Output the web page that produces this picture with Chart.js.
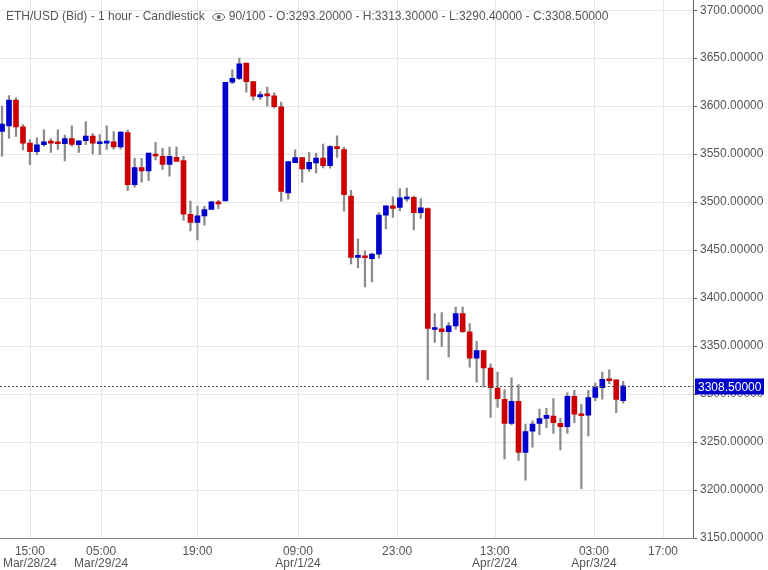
<!DOCTYPE html>
<html><head><meta charset="utf-8">
<script src="https://cdn.jsdelivr.net/npm/chart.js@4"></script>
<style>html,body{margin:0;padding:0;background:#fff}#w{width:768px;height:570px}</style>
</head><body><div id="w"><canvas id="c"></canvas></div>
<script>
const opens=[3573.6,3579.4,3606.3,3578.4,3561.5,3552.6,3559.8,3563.2,3562.2,3560.8,3566.3,3559.8,3564,3568.8,3560.8,3561.5,3562.9,3557.4,3572.5,3518.1,3536,3532.6,3550.1,3547.7,3539.4,3546.7,3543.2,3487.4,3478.8,3485.7,3492.3,3500.2,3501.2,3624.9,3629,3644.8,3625.5,3609.7,3612.1,3610.7,3599.4,3509.5,3541.1,3546.3,3534.7,3540.9,3546,3538.1,3557.1,3554.7,3506.4,3442.4,3444.1,3441,3445.8,3486.5,3496.1,3494.4,3503.4,3505.1,3488.9,3493.4,3367.3,3368,3364.9,3371.1,3383.8,3364.9,3337.3,3345.2,3327,3306.3,3294.6,3269.5,3292.5,3239.2,3261.3,3269.5,3274.6,3277,3269.5,3266,3297.7,3278.1,3278.1,3296.6,3306.7,3314.9,3314.9,3293.2];
const highs=[3600.1,3611.1,3608.7,3580.8,3565,3567,3575.3,3566.3,3575.3,3569.8,3579.4,3564,3583.9,3571.5,3570.5,3579.4,3573.6,3573.6,3575,3545.7,3545.7,3551.2,3562.2,3556,3557.4,3557.4,3547.7,3501.2,3496,3496,3500.9,3501.9,3624.9,3637.9,3650,3644.8,3625.5,3615.2,3620,3613.8,3604.2,3542.2,3554.6,3546.3,3551.9,3551.2,3560.5,3558.8,3569.1,3557.1,3512.3,3461.7,3449.3,3446.9,3489.2,3496.1,3505.4,3514,3514.7,3506.4,3503.7,3494,3383.8,3384.9,3374.5,3390.7,3390.7,3373.5,3354.9,3345.2,3331.5,3322.9,3304.6,3317,3309.8,3268.8,3272.2,3284.3,3285,3295.3,3274.6,3301.2,3303.9,3289.4,3303.9,3311.5,3322.9,3325.3,3314.9,3313.3];
const lows=[3547.8,3566.3,3568.4,3554.3,3539.1,3549.8,3558.1,3551.9,3555,3542.9,3558.4,3551.9,3559.8,3550.2,3549.5,3555,3555.3,3555.3,3511.9,3515.7,3520.9,3522.3,3543.9,3534,3527,3542.5,3481.2,3469.9,3460.6,3476,3492.3,3493.3,3501.2,3623.5,3627.6,3614.5,3606.3,3607,3600,3598.3,3500.9,3503,3541.5,3520.9,3531.9,3530.5,3535.7,3535.4,3546.7,3490.6,3435.5,3431.4,3411.7,3416.9,3441.7,3472,3484.1,3490.9,3500.9,3471,3483,3314.9,3353.9,3349.4,3338.4,3367.6,3364.2,3328,3312.5,3307.4,3275.7,3286,3232.3,3267.8,3230.9,3210.2,3244.7,3257.4,3265,3259.1,3241.9,3259.1,3270.2,3201.3,3256.4,3292.9,3294.6,3310.8,3280.5,3290.4];
const closes=[3581.2,3606.3,3578.4,3561.5,3552.6,3559.8,3562.9,3561.5,3560.8,3566.3,3560.1,3564,3568.8,3561.5,3561.8,3563.2,3557.4,3572.9,3518.1,3536,3532.6,3551.2,3548.1,3539.4,3547.7,3542.5,3487.4,3478.8,3485.7,3492.3,3500.2,3498.1,3624.9,3629,3644.1,3625.5,3610.4,3612.1,3610.7,3599.4,3511.2,3542.2,3546.3,3534.6,3541.6,3546,3538.1,3557.8,3555.7,3507.8,3442.4,3443.4,3442,3445.8,3486.5,3496.1,3493.4,3504.4,3504.4,3488.9,3494,3368.4,3368.4,3364.9,3371.1,3383.8,3364.9,3337.3,3345.2,3327.3,3306.7,3295.3,3269.5,3292.5,3239.2,3260.9,3268.8,3274.5,3277.7,3270.2,3266,3297.7,3279.1,3277.4,3296.3,3306.7,3315.3,3313.9,3294.3,3308.5];
const tickPos=[4,14.2,28,42.4,56.6,70.6,84.8,94.7];
const tickTimes=['15:00','05:00','19:00','09:00','23:00','13:00','03:00','17:00'];
const tickDates=['Mar/28/24','Mar/29/24','','Apr/1/24','','Apr/2/24','Apr/3/24',''];
const yTicks=[3150,3200,3250,3300,3350,3400,3450,3500,3550,3600,3650,3700];
const header='ETH/USD (Bid) - 1 hour - Candlestick';
const header2='90/100 - O:3293.20000 - H:3313.30000 - L:3290.40000 - C:3308.50000';

const UP='#0000cc',DN='#cc0000';
const bodies=opens.map((o,i)=>({x:i,y:[o,closes[i]]}));
const wicks=lows.map((l,i)=>({x:i,y:[l,highs[i]]}));
const cols=opens.map((o,i)=>closes[i]>=o?UP:DN);
const last=closes[closes.length-1];

const extra={id:'extra',
 beforeDatasetsDraw(ch){const c=ch.ctx,a=ch.chartArea,xs=ch.scales.x;
  c.save();c.strokeStyle='#e6e6e6';c.lineWidth=1;
  tickPos.forEach(p=>{const x=Math.round(xs.getPixelForValue(p))+0.5;c.beginPath();c.moveTo(x,0);c.lineTo(x,a.bottom);c.stroke();});
  c.restore();},
 afterDraw(ch){const c=ch.ctx,a=ch.chartArea,ys=ch.scales.y;
  c.save();
  const y=Math.round(ys.getPixelForValue(last))+0.5;
  c.strokeStyle='#555';c.setLineDash([2,2]);c.lineWidth=1;
  c.beginPath();c.moveTo(a.left,y);c.lineTo(a.right,y);c.stroke();c.setLineDash([]);
  c.fillStyle=UP;c.fillRect(a.right+2,y-8,69,16);
  c.fillStyle='#fff';c.font='12px "Liberation Sans", Arial';c.textBaseline='middle';c.textAlign='left';
  c.fillText(last.toFixed(5),a.right+5,y+1);
  c.fillStyle='#555';c.textBaseline='middle';
  c.fillText(header,6,17);
  const w=c.measureText(header).width;
  const ex=6+w+14;
  c.strokeStyle='#666';c.lineWidth=1;
  c.beginPath();c.ellipse(ex,17,6,3.5,0,0,Math.PI*2);c.stroke();
  c.beginPath();c.arc(ex,17,2,0,Math.PI*2);c.fillStyle='#666';c.fill();
  c.fillStyle='#555';c.fillText(header2,ex+10,17);
  c.strokeStyle='#666';c.beginPath();c.moveTo(a.right+0.5,0);c.lineTo(a.right+0.5,a.bottom);c.stroke();
  c.restore();}
};

new Chart(document.getElementById('c'),{
 type:'bar',
 data:{datasets:[
  {data:bodies,backgroundColor:cols,borderWidth:0,barThickness:5,minBarLength:2,order:0,grouped:false},
  {data:wicks,backgroundColor:'#8c8c8c',borderWidth:0,barThickness:1.6,order:1,grouped:false}
 ]},
 options:{responsive:true,maintainAspectRatio:false,animation:false,
  layout:{padding:{top:6,left:0,right:0,bottom:0}},
  plugins:{legend:{display:false},tooltip:{enabled:false}},
  scales:{
   x:{type:'linear',min:-0.29,max:99,offset:false,
    grid:{display:false},border:{display:true,color:'#888'},
    afterBuildTicks(s){s.ticks=tickPos.map(v=>({value:v}));},
    afterFit(s){s.height=32;},
    ticks:{autoSkip:false,maxRotation:0,padding:0,color:'#555',font:{size:12,family:'"Liberation Sans", Arial',lineHeight:1.0},
     callback(v){const i=tickPos.indexOf(v);return i<0?'':(tickDates[i]?[tickTimes[i],tickDates[i]]:tickTimes[i]);}}},
   y:{position:'right',min:3150,max:3700,
    afterBuildTicks(s){s.ticks=yTicks.map(v=>({value:v}));},
    afterFit(s){s.width=75;},
    grid:{color:'#e6e6e6',drawTicks:true,tickLength:4,tickColor:'#666'},border:{display:false},
    ticks:{padding:3,color:'#555',font:{size:12,family:'"Liberation Sans", Arial'},callback:v=>Number(v).toFixed(5)}}
  }}
 ,plugins:[extra]});
</script></body></html>
